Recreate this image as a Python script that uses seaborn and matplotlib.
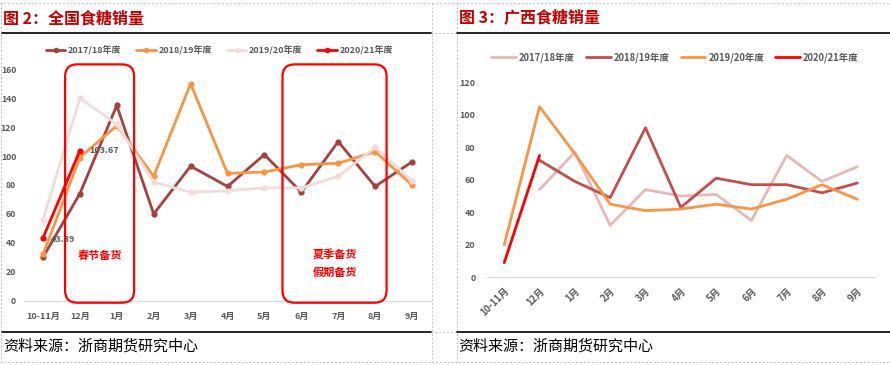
import matplotlib
matplotlib.use("Agg")
import matplotlib.pyplot as plt
from matplotlib.patches import FancyBboxPatch
from matplotlib.lines import Line2D
import numpy as np
import pandas as pd
import seaborn as sns

sns.set_style("white")
plt.rcParams['font.family'] = ['Noto Sans CJK SC', 'DejaVu Sans']

# ---- data ----
months = ["10-11月", "12月", "1月", "2月", "3月", "4月", "5月", "6月", "7月", "8月", "9月"]

# 全国食糖销量
national_seasons = ["2017/18年度", "2018/19年度", "2019/20年度", "2020/21年度"]
national_1718 = [30, 74, 135, 60, 93, 79, 101, 75, 110, 79, 96]
national_1819 = [32, 99, 121, 86, 150, 88, 89, 94, 95, 103, 80]
national_1920 = [56, 140, 122, 82, 75, 76, 78, 78, 86, 106, 83]
national_2021 = [43.39, 103.67, None, None, None, None, None, None, None, None, None]

# 广西食糖销量
gx_seasons = ["2017/18年度", "2018/19年度", "2019/20年度", "2020/21年度"]
gx_1718 = [None, 54, 77, 32, 54, 50, 51, 35, 75, 59, 68]
gx_1819 = [None, 72, 59, 49, 92, 43, 61, 57, 57, 52, 58]
gx_1920 = [20, 105, 76, 45, 41, 42, 45, 42, 48, 57, 48]
gx_2021 = [9, 75, None, None, None, None, None, None, None, None, None]

national_colors = ["#A5423F", "#F79646", "#F2DCDB", "#FF0000"]
gx_colors = ["#E6B9B8", "#C0504D", "#F79646", "#FF0000"]

TITLE_RED = "#C00000"
TICK_GRAY = "#595959"

W, H = 890, 365
fig = plt.figure(figsize=(W / 100, H / 100), dpi=100)


def px_rect(x0, y0, x1, y1):
    # pixel box (top-left origin) -> figure fraction [left, bottom, width, height]
    return [x0 / W, 1 - y1 / H, (x1 - x0) / W, (y1 - y0) / H]


def build_df(seasons, series):
    rows = []
    for s, vals in zip(seasons, series):
        for i, v in enumerate(vals):
            rows.append({"pos": i, "season": s, "value": np.nan if v is None else v})
    return pd.DataFrame(rows)


# ---------------- left chart ----------------
ax1 = fig.add_axes(px_rect(24.5, 69.3, 430.5, 300.7))
df1 = build_df(national_seasons, [national_1718, national_1819, national_1920, national_2021])
for s, c in zip(national_seasons, national_colors):
    d = df1[df1["season"] == s].dropna()
    sns.lineplot(data=d, x="pos", y="value", ax=ax1, color=c, lw=2.0,
                 marker="o", markersize=4.5, markeredgewidth=0, sort=False, legend=False)

ax1.set_xlim(-0.5, 10.5)
ax1.set_ylim(0, 160)
ax1.set_yticks(range(0, 161, 20))
ax1.set_xticks(range(len(months)))
ax1.set_xticklabels(months)
ax1.set_xlabel("")
ax1.set_ylabel("")
for sp in ["top", "right", "left"]:
    ax1.spines[sp].set_visible(False)
ax1.spines["bottom"].set_color("#D9D9D9")
ax1.spines["bottom"].set_linewidth(0.8)
ax1.tick_params(axis="y", length=0, labelsize=6.3, labelcolor=TICK_GRAY, pad=6)
ax1.tick_params(axis="x", length=0, labelsize=6.5, labelcolor=TICK_GRAY, pad=8)
for lab in ax1.get_xticklabels() + ax1.get_yticklabels():
    lab.set_fontweight("bold")

# value labels for 2020/21
ax1.text(0.22, national_2021[0] - 1, f"{national_2021[0]:.2f}", fontsize=6.5, color=TICK_GRAY,
         fontweight="bold", va="center", ha="left")
ax1.text(1.25, national_2021[1], f"{national_2021[1]:.2f}", fontsize=6.5, color=TICK_GRAY,
         fontweight="bold", va="center", ha="left")

# highlight boxes
x_px, y_px = 36.9, 1.4465
for x0, x1 in [(0.6, 2.47), (6.49, 9.31)]:
    box = FancyBboxPatch((x0, -1.4), x1 - x0, 164.8,
                         boxstyle="round,pad=0,rounding_size=0.33",
                         mutation_aspect=x_px / y_px, fill=False, ec="#FF0000", lw=1.6,
                         clip_on=False, zorder=5)
    ax1.add_patch(box)
ax1.text(1.54, 31.5, "春节备货", color="#FF0000", fontsize=8, fontweight="bold",
         ha="center", va="center")
ax1.text(7.9, 26, "夏季备货\n假期备货", color="#FF0000", fontsize=8, fontweight="bold",
         ha="center", va="center", linespacing=1.5)

handles1 = [Line2D([], [], color=c, lw=2.0, marker="o", markersize=4, markeredgewidth=0)
            for c in national_colors]
leg1 = ax1.legend(handles1, national_seasons, ncol=4, frameon=False, loc="center",
                  bbox_to_anchor=(0.48, 1.083), fontsize=6.5, handlelength=2.2,
                  columnspacing=1.6, handletextpad=0.3)
for t in leg1.get_texts():
    t.set_color(TICK_GRAY)
    t.set_fontweight("bold")

# ---------------- right chart ----------------
ax2 = fig.add_axes(px_rect(486.6, 82.3, 875.0, 277.3))
df2 = build_df(gx_seasons, [gx_1718, gx_1819, gx_1920, gx_2021])
for s, c in zip(gx_seasons, gx_colors):
    d = df2[df2["season"] == s].dropna()
    sns.lineplot(data=d, x="pos", y="value", ax=ax2, color=c, lw=2.0, sort=False, legend=False)

ax2.set_xlim(-0.5, 10.5)
ax2.set_ylim(0, 120)
ax2.set_yticks(range(0, 121, 20))
ax2.set_xticks(range(len(months)))
ax2.set_xticklabels(months, rotation=45, ha="right", rotation_mode="anchor")
ax2.set_xlabel("")
ax2.set_ylabel("")
for sp in ["top", "right", "left"]:
    ax2.spines[sp].set_visible(False)
ax2.spines["bottom"].set_color("#D9D9D9")
ax2.spines["bottom"].set_linewidth(0.8)
ax2.tick_params(axis="y", length=0, labelsize=6.5, labelcolor=TICK_GRAY, pad=8)
ax2.tick_params(axis="x", length=0, labelsize=6.8, labelcolor=TICK_GRAY, pad=6)
for lab in ax2.get_xticklabels() + ax2.get_yticklabels():
    lab.set_fontweight("bold")

handles2 = [Line2D([], [], color=c, lw=2.0) for c in gx_colors]
leg2 = ax2.legend(handles2, gx_seasons, ncol=4, frameon=False, loc="center",
                  bbox_to_anchor=(0.485, 1.126), fontsize=6.8, handlelength=2.6,
                  columnspacing=1.2, handletextpad=0.3)
for t in leg2.get_texts():
    t.set_color(TICK_GRAY)
    t.set_fontweight("bold")

# ---------------- frame, titles, source ----------------
def hline(y, x0, x1, **kw):
    fig.add_artist(Line2D([x0 / W, x1 / W], [1 - y / H, 1 - y / H], **kw))


def vline(x, y0, y1, **kw):
    fig.add_artist(Line2D([x / W, x / W], [1 - y0 / H, 1 - y1 / H], **kw))


dash = dict(color="#BFBFBF", lw=0.7, ls=(0, (2, 2)))
hline(3, 0, W, **dash)
hline(362, 0, W, **dash)
hline(33, 431, 457, **dash)
hline(332, 431, 457, **dash)
vline(1, 3, 362, **dash)
vline(431.5, 3, 362, **dash)
vline(456.5, 3, 362, **dash)

hline(33.3, 2, 431, color="black", lw=1.2)
hline(33.3, 457, W, color="black", lw=1.2)
hline(332.3, 2, 431, color="black", lw=1.2)
hline(332.3, 457, W, color="black", lw=1.2)

fig.text(3 / W, 1 - 18 / H, "图 2：全国食糖销量", color=TITLE_RED, fontsize=11.5,
         fontweight="bold", va="center", ha="left")
fig.text(459 / W, 1 - 18 / H, "图 3：广西食糖销量", color=TITLE_RED, fontsize=11.5,
         fontweight="bold", va="center", ha="left")
fig.text(3 / W, 1 - 346 / H, "资料来源：浙商期货研究中心", color="black", fontsize=10.8,
         va="center", ha="left")
fig.text(458 / W, 1 - 346 / H, "资料来源：浙商期货研究中心", color="black", fontsize=10.8,
         va="center", ha="left")

fig.savefig("out.png", dpi=100, facecolor="white")
